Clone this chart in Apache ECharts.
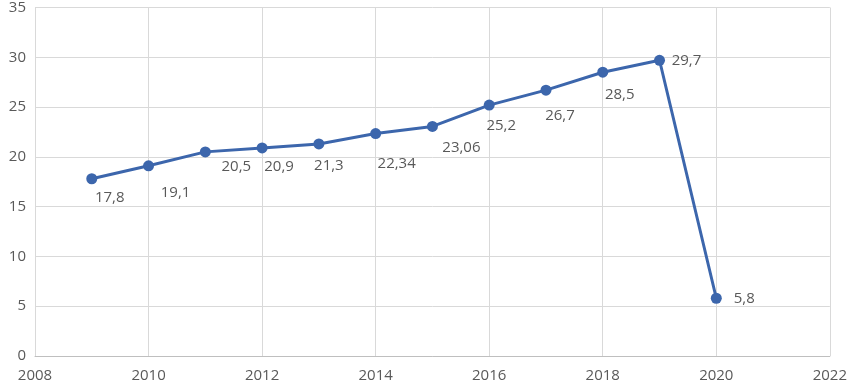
<!DOCTYPE html>
<html>
<head>
<meta charset="utf-8">
<script src="https://cdn.jsdelivr.net/npm/echarts@6/dist/echarts.min.js"></script>
<style>
  html, body { margin: 0; padding: 0; background: #fff; }
  #chart { width: 850px; height: 387px; }
</style>
</head>
<body>
<div id="chart"></div>
<script>
var years = [2009, 2010, 2011, 2012, 2013, 2014, 2015, 2016, 2017, 2018, 2019, 2020];
var values = [17.8, 19.1, 20.5, 20.9, 21.3, 22.34, 23.06, 25.2, 26.7, 28.5, 29.7, 5.8];

// label offsets (Excel places them to avoid the line)
var labelOffsets = [
  [18, 19], [27, 27], [31, 15], [17, 19], [10, 22], [21, 30],
  [29, 21], [12, 21], [14, 26], [17, 23], [27, 0], [28, 0]
];

var chart = echarts.init(document.getElementById('chart'));
var textColor = '#595959';
var lineColor = '#3c66ac';

var option = {
    animation: false,
    grid: { left: 35, right: 18, top: 7, bottom: 31 },
    xAxis: {
        type: 'value',
        min: 2008,
        max: 2022,
        interval: 2,
        axisLine: { show: true, lineStyle: { color: '#bfbfbf', width: 1 } },
        axisTick: { show: false },
        axisLabel: {
            color: textColor, fontSize: 15, margin: 12, fontFamily: 'Open Sans',
            formatter: function (v) { return String(v); }
        },
        splitLine: { show: true, lineStyle: { color: '#d9d9d9', width: 1 } }
    },
    yAxis: {
        type: 'value',
        min: 0,
        max: 35,
        interval: 5,
        axisLine: { show: false },
        axisTick: { show: false },
        axisLabel: { color: textColor, fontSize: 15, margin: 9, fontFamily: 'Open Sans' },
        splitLine: { show: true, lineStyle: { color: '#d9d9d9', width: 1 } }
    },
    series: [{
        type: 'line',
        symbol: 'circle',
        symbolSize: 11,
        lineStyle: { color: lineColor, width: 3 },
        itemStyle: { color: lineColor },
        data: years.map(function (y, i) {
            return {
                value: [y, values[i]],
                label: { offset: labelOffsets[i] }
            };
        }),
        label: {
            show: true,
            position: 'inside',
            color: textColor,
            fontSize: 15,
            fontFamily: 'Open Sans',
            formatter: function (p) {
                return String(p.value[1]).replace('.', ',');
            }
        }
    }]
};
chart.setOption(option);
</script>
</body>
</html>
